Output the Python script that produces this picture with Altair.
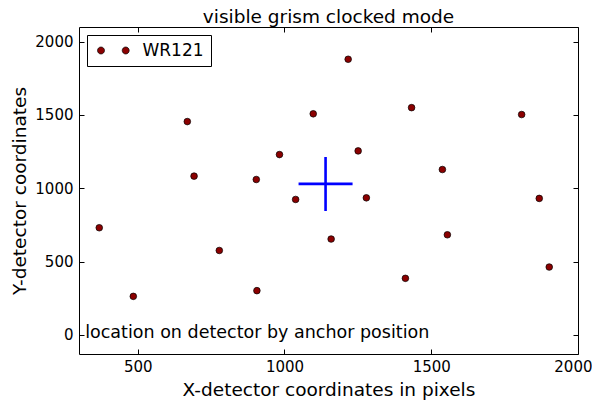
import altair as alt
import pandas as pd

FONT = "DejaVu Sans"

# ---- data ----
x_pos = [1217, 669, 1098, 1433, 1808, 983, 1251, 692, 904, 1538, 1038,
         1279, 1868, 369, 1159, 1555, 778, 1902, 485, 906, 1412]
y_pos = [1880, 1455, 1508, 1550, 1503, 1230, 1255, 1083, 1060, 1128, 924,
         935, 931, 731, 654, 683, 576, 463, 263, 302, 386]
series_name = "WR121"

anchor_x = [1140]
anchor_y = [1030]

note_text = ["location on detector by anchor position"]
note_x = [321]
note_y = [-24]

x_ticks = [500, 1000, 1500, 2000]
y_ticks = [0, 500, 1000, 1500, 2000]
x_domain = [300, 2000]
y_domain = [-130, 2100]

# ---- tables ----
df = pd.DataFrame({"x": x_pos, "y": y_pos, "series": [series_name] * len(x_pos)})
cross_df = pd.DataFrame({"x": anchor_x, "y": anchor_y})
note_df = pd.DataFrame({"x": note_x, "y": note_y, "t": note_text})

xs = alt.Scale(domain=x_domain, nice=False, zero=False)
ys = alt.Scale(domain=y_domain, nice=False, zero=False)

axis_common = dict(
    tickSize=5, offset=-5, domain=False, grid=False, format="d",
    labelOverlap=False,
    tickColor="black", tickWidth=1,
    labelColor="black", labelFont=FONT, labelFontSize=15,
    titleFont=FONT, titleFontSize=18.5, titleFontWeight="normal", titleColor="black",
)

legend_path = ("M-1,0A1,1,0,1,0,1,0A1,1,0,1,0,-1,0Z "
               "M6.06,0A1,1,0,1,0,8.06,0A1,1,0,1,0,6.06,0Z")

points = alt.Chart(df).mark_point(
    filled=True, shape="circle", size=44, stroke="black", strokeWidth=0.7, opacity=1
).encode(
    x=alt.X("x:Q", scale=xs, axis=alt.Axis(
        orient="bottom", values=x_ticks, title="X-detector coordinates in pixels",
        labelPadding=5, titlePadding=6, labelFlush=True, labelFlushOffset=14,
        **axis_common)),
    y=alt.Y("y:Q", scale=ys, axis=alt.Axis(
        orient="left", values=y_ticks, title="Y-detector coordinates",
        labelPadding=6, titlePadding=5, labelFlush=False, **axis_common)),
    color=alt.Color("series:N", scale=alt.Scale(range=["#8b0000"]), legend=alt.Legend(
        title=None, orient="top-left", offset=8, padding=7,
        strokeColor="black", fillColor="white", cornerRadius=0,
        symbolType=legend_path, symbolSize=49, symbolStrokeColor="black",
        symbolStrokeWidth=0.7, symbolFillColor="#8b0000", symbolOffset=-1.5,
        labelFont=FONT, labelFontSize=17, labelColor="black", labelOffset=33)),
)

cross = alt.Chart(cross_df).mark_point(
    shape="M-1,0L1,0M0,-1L0,1", size=2916, filled=False,
    stroke="#0000ff", strokeWidth=2.6, opacity=1
).encode(
    x=alt.X("x:Q", scale=xs, axis=alt.Axis(
        orient="top", values=x_ticks, labels=False, title=None, **axis_common)),
    y=alt.Y("y:Q", scale=ys, axis=alt.Axis(
        orient="right", values=y_ticks, labels=False, title=None, **axis_common)),
)

note = alt.Chart(note_df).mark_text(
    align="left", baseline="alphabetic", font=FONT, fontSize=17.5, color="black"
).encode(
    x=alt.X("x:Q", scale=xs, axis=None),
    y=alt.Y("y:Q", scale=ys, axis=None),
    text="t:N",
)

chart = alt.layer(points, cross, note).resolve_axis(
    x="independent", y="independent"
).properties(
    width=499, height=327,
    autosize=alt.AutoSizeParams(type="none"),
    padding={"left": 71, "top": 19, "right": 14, "bottom": 50},
    title=alt.TitleParams("visible grism clocked mode", font=FONT, fontSize=18.5,
                          fontWeight="normal", color="black", offset=0),
).configure_view(stroke="black", strokeWidth=1)

chart.save("out.html", embed_options={"renderer": "svg", "actions": False})
